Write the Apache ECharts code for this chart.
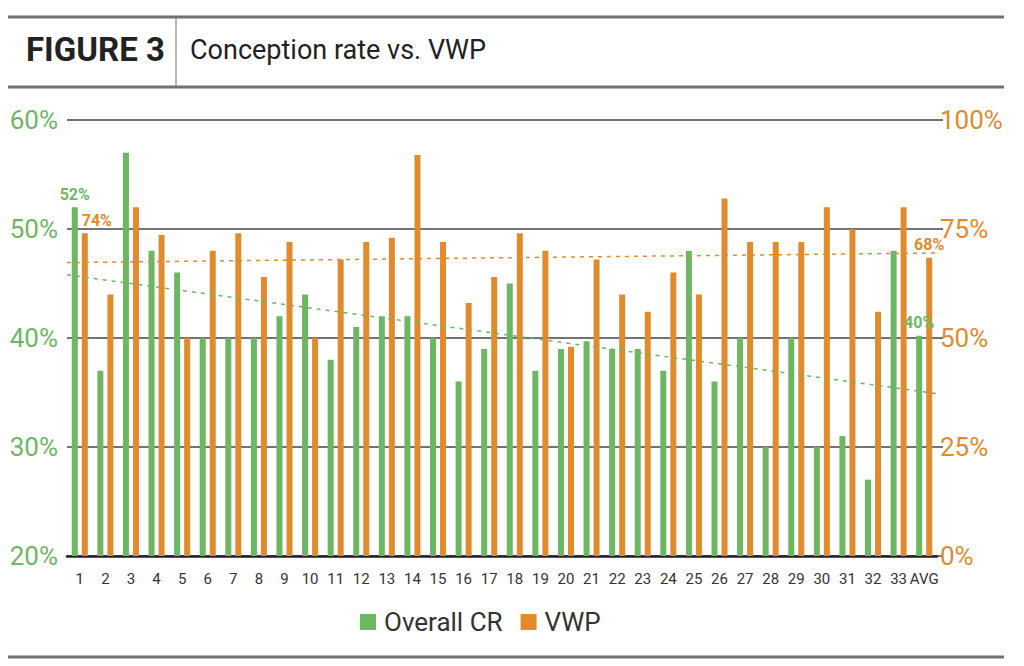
<!DOCTYPE html>
<html>
<head>
<meta charset="utf-8">
<script src="https://cdn.jsdelivr.net/npm/echarts@6/dist/echarts.min.js"></script>
<style>html,body{margin:0;padding:0;background:#fff;}#c{width:1024px;height:666px;}</style>
</head>
<body>
<div id="c"></div>
<script>
var categories = ['1','2','3','4','5','6','7','8','9','10','11','12','13','14','15','16','17','18','19','20','21','22','23','24','25','26','27','28','29','30','31','32','33','AVG'];
var overallCR = [52,37,57,48,46,40,40,40,42,44,38,41,42,42,40,36,39,45,37,39,39.7,39,39,37,48,36,40,30,40,30,31,27,48,40.2];
var vwp = [74,60,80,73.6,50,70,74,64,72,50,68,72,73,92,72,58,64,74,70,48,68,60,56,65,60,82,72,72,72,80,75,56,80,68.4];
var crTrend = [[0,45.8],[34,34.9]];
var vwpTrend = [[0,67.3],[34,69.5]];

var GREEN = '#6db763';
var ORANGE = '#e28b2d';
var FONT = "Roboto,'Liberation Sans',sans-serif";

function withLabels(arr, color, firstOffset) {
  return arr.map(function (v, i) {
    if (i === 0 || i === arr.length - 1) {
      return {
        value: v,
        label: {
          show: true, position: 'top', distance: 5,
          offset: i === 0 ? firstOffset : [0, 0],
          color: color, fontFamily: FONT, fontWeight: 'bold', fontSize: 16,
          formatter: function (p) { return Math.round(p.value) + '%'; }
        }
      };
    }
    return v;
  });
}

var chart = echarts.init(document.getElementById('c'), null, {renderer: 'svg'});
chart.setOption({
  animation: false,
  backgroundColor: '#fff',
  graphic: [
    {type: 'line', shape: {x1: 8, y1: 17, x2: 1004, y2: 17}, style: {stroke: '#707070', lineWidth: 3}},
    {type: 'line', shape: {x1: 8, y1: 87, x2: 1004, y2: 87}, style: {stroke: '#707070', lineWidth: 3}},
    {type: 'line', shape: {x1: 176, y1: 17, x2: 176, y2: 87}, style: {stroke: '#707070', lineWidth: 1}},
    {type: 'line', shape: {x1: 8, y1: 657, x2: 1004, y2: 657}, style: {stroke: '#707070', lineWidth: 3}},
    {type: 'text', left: 26, top: 33, style: {text: 'FIGURE 3', fill: '#222', font: "bold 33px Roboto,sans-serif"}},
    {type: 'text', left: 190, top: 36, style: {text: 'Conception rate vs. VWP', fill: '#222', font: "27px Roboto,sans-serif"}}
  ],
  legend: {
    data: ['Overall CR', 'VWP'],
    left: 355, top: 604,
    itemWidth: 16, itemHeight: 16, itemGap: 18,
    icon: 'rect',
    textStyle: {color: '#333', fontSize: 26, fontFamily: FONT, padding: [0, 0, 0, 3]}
  },
  grid: {left: 67, right: 87, top: 120, bottom: 110},
  xAxis: [
    {
      type: 'category', data: categories,
      axisLine: {show: true, lineStyle: {color: '#222', width: 2.5}},
      axisTick: {show: false},
      axisLabel: {color: '#333', fontSize: 15, fontFamily: FONT, margin: 15, interval: 0}
    },
    {type: 'value', min: 0, max: 34, show: false}
  ],
  yAxis: [
    {
      type: 'value', min: 20, max: 60, interval: 10,
      axisLine: {show: false}, axisTick: {show: false},
      splitLine: {lineStyle: {color: '#444', width: 1.5}},
      axisLabel: {color: GREEN, fontSize: 26, fontFamily: FONT, margin: 9, formatter: '{value}%'}
    },
    {
      type: 'value', min: 0, max: 100, interval: 25, position: 'right',
      axisLine: {show: false},
      axisTick: {show: true, length: 6, lineStyle: {color: '#444', width: 1.5}},
      splitLine: {show: false},
      axisLabel: {color: ORANGE, fontSize: 26, fontFamily: FONT, margin: 3, formatter: '{value}%'}
    }
  ],
  series: [
    {
      name: 'Overall CR', type: 'bar', yAxisIndex: 0, data: withLabels(overallCR, GREEN, [0, 0]),
      barWidth: 6, barGap: '67%', itemStyle: {color: GREEN}
    },
    {
      name: 'VWP', type: 'bar', yAxisIndex: 1, data: withLabels(vwp, ORANGE, [12, 0]),
      barWidth: 6, barGap: '67%', itemStyle: {color: ORANGE}
    },
    {
      name: 'CR trend', type: 'line', xAxisIndex: 1, yAxisIndex: 0, data: crTrend,
      symbol: 'none', lineStyle: {color: GREEN, width: 1.5, type: [4, 5]}, z: 5
    },
    {
      name: 'VWP trend', type: 'line', xAxisIndex: 1, yAxisIndex: 1, data: vwpTrend,
      symbol: 'none', lineStyle: {color: ORANGE, width: 1.5, type: [4, 5]}, z: 5
    }
  ]
});
</script>
</body>
</html>
